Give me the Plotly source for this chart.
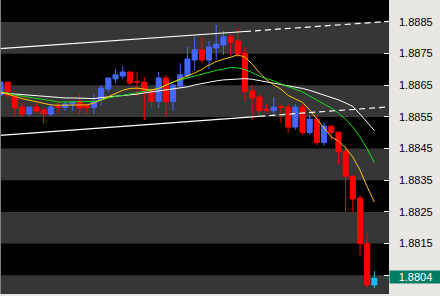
import plotly.graph_objects as go

# ---- bar data (GBP-style 5-digit quotes) ----
bar_index = list(range(53))
opens = [1.88619, 1.88660, 1.88616, 1.88581, 1.88559, 1.88581, 1.88572, 1.88559, 1.88583, 1.88580,
         1.88591, 1.88600, 1.88585, 1.88580, 1.88604, 1.88638, 1.88670, 1.88679, 1.88692, 1.88662,
         1.88660, 1.88635, 1.88599, 1.88673, 1.88599, 1.88648, 1.88679, 1.88730, 1.88762, 1.88730,
         1.88768, 1.88777, 1.88803, 1.88790, 1.88752, 1.88632, 1.88613, 1.88574, 1.88570, 1.88582,
         1.88581, 1.88518, 1.88581, 1.88501, 1.88543, 1.88469, 1.88521, 1.88502, 1.88442, 1.88363,
         1.88294, 1.88150, 1.88019]
highs = [1.88667, 1.88660, 1.88622, 1.88594, 1.88581, 1.88591, 1.88578, 1.88591, 1.88600, 1.88600,
         1.88600, 1.88622, 1.88585, 1.88622, 1.88651, 1.88673, 1.88701, 1.88711, 1.88692, 1.88692,
         1.88676, 1.88641, 1.88692, 1.88683, 1.88651, 1.88720, 1.88771, 1.88803, 1.88803, 1.88790,
         1.88841, 1.88822, 1.88815, 1.88831, 1.88771, 1.88651, 1.88622, 1.88591, 1.88613, 1.88591,
         1.88591, 1.88591, 1.88591, 1.88556, 1.88556, 1.88534, 1.88521, 1.88502, 1.88458, 1.88363,
         1.88303, 1.88183, 1.88063]
lows = [1.88581, 1.88610, 1.88550, 1.88550, 1.88553, 1.88562, 1.88528, 1.88553, 1.88562, 1.88569,
        1.88569, 1.88559, 1.88559, 1.88559, 1.88585, 1.88629, 1.88657, 1.88670, 1.88651, 1.88616,
        1.88540, 1.88578, 1.88578, 1.88550, 1.88569, 1.88641, 1.88673, 1.88698, 1.88720, 1.88701,
        1.88730, 1.88746, 1.88746, 1.88739, 1.88599, 1.88540, 1.88550, 1.88562, 1.88562, 1.88531,
        1.88499, 1.88509, 1.88493, 1.88493, 1.88461, 1.88458, 1.88477, 1.88401, 1.88250, 1.88250,
        1.88111, 1.88009, 1.88009]
closes = [1.88660, 1.88619, 1.88578, 1.88559, 1.88581, 1.88569, 1.88559, 1.88581, 1.88581, 1.88591,
          1.88597, 1.88578, 1.88580, 1.88600, 1.88641, 1.88673, 1.88683, 1.88692, 1.88657, 1.88660,
          1.88632, 1.88599, 1.88673, 1.88599, 1.88651, 1.88683, 1.88733, 1.88762, 1.88730, 1.88771,
          1.88780, 1.88803, 1.88787, 1.88749, 1.88630, 1.88610, 1.88570, 1.88572, 1.88581, 1.88580,
          1.88518, 1.88581, 1.88501, 1.88543, 1.88469, 1.88521, 1.88501, 1.88440, 1.88362, 1.88291,
          1.88150, 1.88019, 1.88040]

# ---- moving averages (fast / medium / slow) ----
ma_fast = [1.88629, 1.88621, 1.88615, 1.88608, 1.88603, 1.88597, 1.88591, 1.88588, 1.88587, 1.88587,
           1.88587, 1.88587, 1.88588, 1.88594, 1.88604, 1.88613, 1.88624, 1.88634, 1.88640, 1.88641,
           1.88638, 1.88635, 1.88640, 1.88649, 1.88660, 1.88670, 1.88679, 1.88689, 1.88700, 1.88714,
           1.88725, 1.88733, 1.88739, 1.88746, 1.88739, 1.88717, 1.88690, 1.88667, 1.88651, 1.88638,
           1.88618, 1.88607, 1.88596, 1.88572, 1.88543, 1.88515, 1.88487, 1.88474, 1.88452, 1.88423,
           1.88382, 1.88329, 1.88281]
ma_mid = [1.88629, 1.88626, 1.88619, 1.88615, 1.88611, 1.88609, 1.88605, 1.88602, 1.88597, 1.88597,
          1.88597, 1.88597, 1.88597, 1.88599, 1.88604, 1.88610, 1.88615, 1.88618, 1.88622, 1.88626,
          1.88630, 1.88635, 1.88641, 1.88651, 1.88660, 1.88667, 1.88673, 1.88678, 1.88684, 1.88692,
          1.88697, 1.88701, 1.88706, 1.88705, 1.88700, 1.88690, 1.88679, 1.88671, 1.88664, 1.88654,
          1.88646, 1.88638, 1.88629, 1.88616, 1.88604, 1.88591, 1.88578, 1.88562, 1.88543, 1.88518,
          1.88487, 1.88449, 1.88406]
ma_slow = [1.88626, 1.88624, 1.88622, 1.88621, 1.88619, 1.88618, 1.88615, 1.88613, 1.88611, 1.88610,
           1.88610, 1.88609, 1.88608, 1.88608, 1.88611, 1.88613, 1.88615, 1.88616, 1.88619, 1.88622,
           1.88626, 1.88629, 1.88631, 1.88634, 1.88637, 1.88640, 1.88645, 1.88651, 1.88656, 1.88660,
           1.88664, 1.88667, 1.88669, 1.88671, 1.88671, 1.88669, 1.88665, 1.88660, 1.88656, 1.88651,
           1.88648, 1.88645, 1.88640, 1.88634, 1.88627, 1.88619, 1.88611, 1.88604, 1.88594, 1.88583,
           1.88559, 1.88534, 1.88507]

# ---- channel trend lines: start, last anchor, projection to the right edge ----
upper_x = [-0.07, 34, 54.03]
upper_y = [1.88766, 1.88820, 1.88852]
lower_x = [-0.07, 36, 54.03]
lower_y = [1.88492, 1.88552, 1.88582]

# ---- price scale ----
price_ticks = [1.8885, 1.8875, 1.8865, 1.8855, 1.8845, 1.8835, 1.8825, 1.8815, 1.8805]
price_labels = ["1.8885", "1.8875", "1.8865", "1.8855", "1.8845", "1.8835", "1.8825", "1.8815", ""]
shaded_bands = [(1.8875, 1.8885), (1.8855, 1.8865), (1.8835, 1.8845), (1.8815, 1.8825), (1.8790, 1.8805)]

X_RANGE = [-0.07, 54.03]
Y_RANGE = [1.879905, 1.889195]

BULL = "#4466ff"
BEAR = "#ff0000"
LIVE = "#1cb8ee"
FONT = "Arial, 'Liberation Sans', sans-serif"

fig = go.Figure()

# finished bars
fig.add_trace(go.Candlestick(
    x=bar_index[:-1], open=opens[:-1], high=highs[:-1], low=lows[:-1], close=closes[:-1],
    increasing=dict(line=dict(color=BULL, width=1), fillcolor=BULL),
    decreasing=dict(line=dict(color=BEAR, width=1), fillcolor=BEAR),
    whiskerwidth=0, hoverinfo="skip", showlegend=False,
))
# current (forming) bar
fig.add_trace(go.Candlestick(
    x=bar_index[-1:], open=opens[-1:], high=highs[-1:], low=lows[-1:], close=closes[-1:],
    increasing=dict(line=dict(color=LIVE, width=1), fillcolor=LIVE),
    decreasing=dict(line=dict(color=LIVE, width=1), fillcolor=LIVE),
    whiskerwidth=0, hoverinfo="skip", showlegend=False,
))

for series, colour in ((ma_slow, "#ffffff"), (ma_mid, "#19dd19"), (ma_fast, "#ffc400")):
    fig.add_trace(go.Scatter(x=bar_index, y=series, mode="lines",
                             line=dict(color=colour, width=1), hoverinfo="skip", showlegend=False))

for xs, ys in ((upper_x, upper_y), (lower_x, lower_y)):
    fig.add_trace(go.Scatter(x=xs[:2], y=ys[:2], mode="lines",
                             line=dict(color="#ffffff", width=1.2), hoverinfo="skip", showlegend=False))
    fig.add_trace(go.Scatter(x=xs[1:], y=ys[1:], mode="lines",
                             line=dict(color="#ffffff", width=1.2, dash="6px,4px"),
                             hoverinfo="skip", showlegend=False))

shapes = []
for lo, hi in shaded_bands:
    shapes.append(dict(type="rect", xref="paper", yref="y", x0=0, x1=1, y0=lo, y1=hi,
                       fillcolor="#363636", line=dict(width=0), layer="below"))
shapes.append(dict(type="line", xref="paper", yref="paper", x0=0, x1=0, y0=0, y1=1,
                   line=dict(color="#808080", width=2)))
shapes.append(dict(type="line", xref="paper", yref="y", x0=0.991, x1=1, y0=closes[-1], y1=closes[-1],
                   line=dict(color="#007d63", width=1)))

fig.update_layout(
    width=440, height=296,
    margin=dict(l=0, r=51, t=0, b=2, pad=0),
    paper_bgcolor="#e9e7e3", plot_bgcolor="#000000",
    showlegend=False,
    boxgap=0, boxgroupgap=0.3,
    shapes=shapes,
    xaxis=dict(range=X_RANGE, visible=False, rangeslider=dict(visible=False), fixedrange=True),
    yaxis=dict(range=Y_RANGE, side="right", tickvals=price_ticks, ticktext=price_labels,
               ticks="inside", ticklen=5, tickwidth=1, tickcolor="#ffffff",
               showgrid=False, zeroline=False, showline=False, fixedrange=True,
               tickfont=dict(family=FONT, size=11, color="#000000"), ticklabelstandoff=9),
    annotations=[dict(xref="paper", yref="y", x=1, y=closes[-1], xanchor="left", yanchor="middle",
                      text=f"{closes[-1]:.4f}", showarrow=False, bgcolor="#007d63",
                      font=dict(family=FONT, size=11, color="#ffffff"),
                      width=49, height=10, borderpad=1, align="center", yshift=1.5)],
)

fig.write_html("out.html")
